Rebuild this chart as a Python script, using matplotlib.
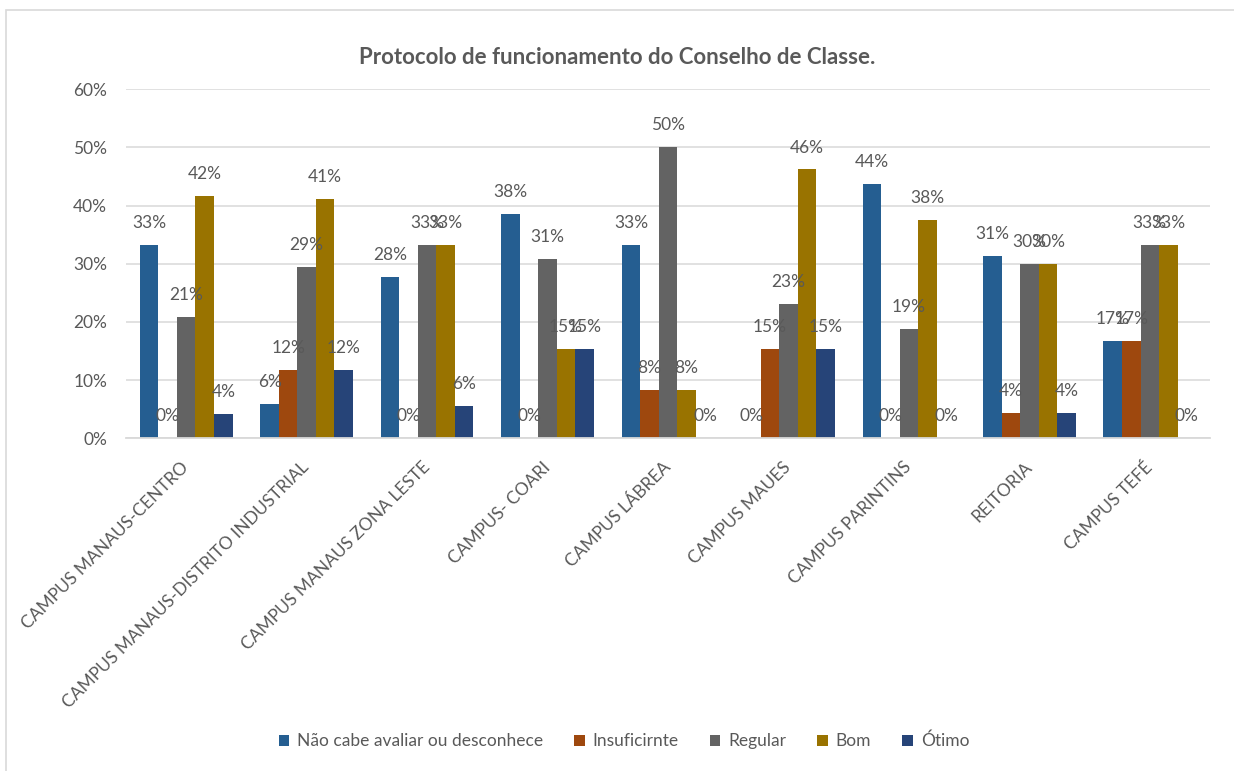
import matplotlib
matplotlib.use('Agg')
import matplotlib.pyplot as plt
import numpy as np
from matplotlib.patches import Patch, Rectangle

plt.rcParams['font.family'] = ['Lato', 'DejaVu Sans']

# dados (%)
categories = ['CAMPUS MANAUS-CENTRO', 'CAMPUS MANAUS-DISTRITO INDUSTRIAL',
              'CAMPUS MANAUS ZONA LESTE', 'CAMPUS- COARI', 'CAMPUS LÁBREA',
              'CAMPUS MAUES', 'CAMPUS PARINTINS', 'REITORIA', 'CAMPUS TEFÉ']
series = ['Não cabe avaliar ou desconhece', 'Insuficirnte', 'Regular', 'Bom', 'Ótimo']
nao_cabe = [33.3, 5.9, 27.8, 38.5, 33.3, 0.0, 43.75, 31.4, 16.7]
insuficiente = [0.0, 11.8, 0.0, 0.0, 8.3, 15.4, 0.0, 4.3, 16.7]
regular = [20.8, 29.4, 33.3, 30.8, 50.0, 23.1, 18.75, 30.0, 33.3]
bom = [41.7, 41.2, 33.3, 15.4, 8.3, 46.2, 37.5, 30.0, 33.3]
otimo = [4.2, 11.8, 5.6, 15.4, 0.0, 15.4, 0.0, 4.3, 0.0]
yticks = [0, 10, 20, 30, 40, 50, 60]

colors = ['#255E91', '#9E480E', '#636363', '#997300', '#264478']
txt = '#595959'
grid = '#D9D9D9'
fs = 12.5

fig = plt.figure(figsize=(12.34, 7.71), dpi=100)
ax = fig.add_axes([126 / 1234, 1 - 438.3 / 771, 1084 / 1234, (438.3 - 89.2) / 771])

x = np.arange(len(categories))
width = 0.154
data = [nao_cabe, insuficiente, regular, bom, otimo]
for i, (vals, col) in enumerate(zip(data, colors)):
    pos = x + (i - 2) * width
    ax.bar(pos, vals, width, color=col, zorder=2)
    for p, v in zip(pos, vals):
        ax.annotate(f'{v:.0f}%', (p, v), xytext=(0, 15.8), textcoords='offset points',
                    ha='center', va='center', fontsize=fs, color=txt, zorder=3)

ax.set_xlim(-0.5, len(categories) - 0.5)
ax.set_ylim(0, 60)
ax.set_yticks(yticks)
ax.set_yticklabels([f'{t}%' for t in yticks])
ax.yaxis.grid(True, color=grid, lw=1.1)
ax.set_axisbelow(True)
for s in ['top', 'right', 'left']:
    ax.spines[s].set_visible(False)
ax.spines['bottom'].set_color(grid)
ax.spines['bottom'].set_linewidth(1.3)
ax.tick_params(axis='y', length=0, pad=13.5, labelsize=fs, labelcolor=txt)
ax.tick_params(axis='x', length=0, pad=19, labelsize=12.5, labelcolor=txt)
ax.set_xticks(x)
ax.set_xticklabels(categories, rotation=45, ha='right', va='center', rotation_mode='anchor')

fig.text(0.5, 1 - 57 / 771, 'Protocolo de funcionamento do Conselho de Classe.',
         ha='center', va='center', fontsize=16, fontweight='bold', color=txt)

handles = [Patch(facecolor=c, label=n) for c, n in zip(colors, series)]
fig.legend(handles=handles, loc='center', bbox_to_anchor=(624 / 1234, 1 - 741 / 771),
           ncol=5, frameon=False, fontsize=fs, labelcolor=txt,
           handlelength=0.6, handleheight=0.6, handletextpad=0.45, columnspacing=1.8)

# moldura da área do gráfico
fig.add_artist(Rectangle((6 / 1234, -0.1), 1.2, 1.1 - 10 / 771, transform=fig.transFigure,
                         fill=False, edgecolor=grid, lw=1.2))

fig.savefig('out.png', dpi=100)
